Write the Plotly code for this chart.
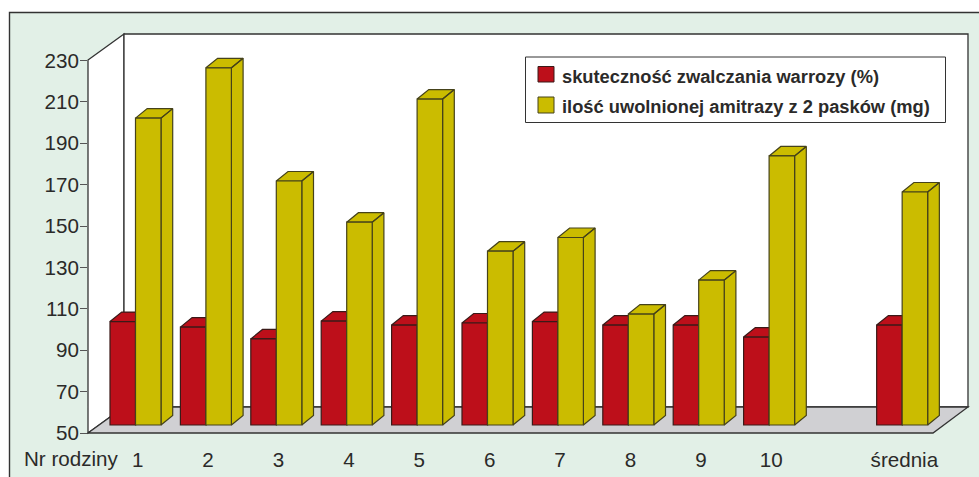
import plotly.graph_objects as go

# Chart data
families = ["1", "2", "3", "4", "5", "6", "7", "8", "9", "10", "średnia"]
positions = [1, 2, 3, 4, 5, 6, 7, 8, 9, 10, 11.89]
efficacy = [100, 97.3, 91.6, 100.2, 98.3, 99.3, 100, 98.3, 98.3, 92.5, 98.3]
amitraz = [198.3, 222.6, 167.9, 148, 207.5, 134, 140.6, 103.6, 120, 180, 162.6]
series_names = ["skuteczność zwalczania warrozy (%)", "ilość uwolnionej amitrazy z 2 pasków (mg)"]
y_ticks = [50, 70, 90, 110, 130, 150, 170, 190, 210, 230]

RED, YELLOW = "#bd0f1a", "#cbbc00"
RED_EDGE, YELLOW_EDGE = "#3a1a18", "#45421a"
INK = "#2b2a29"
FONT = "Liberation Sans, Arial, sans-serif"

W, H = 979, 477
L, R, T, B = 88, 969, 34, 433
PX_PER_X = 70.4
PX_PER_Y = 372.5 / 180
x_min = 1 - (135.5 - L) / PX_PER_X
x_max = x_min + (R - L) / PX_PER_X
y_range = [50, 50 + (B - T) / PX_PER_Y]
# bars stand part-way into the floor, so their value scale sits a little higher
bar_shift = 8 / PX_PER_Y
bar_range = [y_range[0] - bar_shift, y_range[1] - bar_shift]

bar_w = 25.5 / PX_PER_X
dx = 11.7 / PX_PER_X
dy = 9.5 / PX_PER_Y


def px(x):
    return (x - L) / (R - L)


def py(y):
    return (B - y) / (B - T)


def path(points):
    return "M" + " L".join(f"{px(x):.5f},{py(y):.5f}" for x, y in points) + " Z"


def faces(values, offset):
    """Side and top parallelograms of one series, as None-separated outlines."""
    xs, ys = [], []
    for p, v in zip(positions, values):
        x0 = p + offset
        x1 = x0 + bar_w
        xs += [x1, x1 + dx, x1 + dx, x1, x1, None]
        ys += [50, 50 + dy, v + dy, v, 50, None]
        xs += [x0, x1, x1 + dx, x0 + dx, x0, None]
        ys += [v, v, v + dy, v + dy, v, None]
    return xs, ys


fig = go.Figure()

# Keeps the visible value axis attached to a subplot of its own
fig.add_trace(go.Scatter(x=positions, y=y_ticks[:1] * len(positions), mode="markers",
                         marker=dict(opacity=0), hoverinfo="skip", showlegend=False))

# Depth faces first, then the front faces in a subplot layered over them
for values, offset, color, edge in [
    (efficacy, -bar_w, RED, RED_EDGE),
    (amitraz, 0, YELLOW, YELLOW_EDGE),
]:
    xs, ys = faces(values, offset)
    fig.add_trace(go.Scatter(
        x=xs, y=ys, yaxis="y2", mode="lines", fill="toself", fillcolor=color,
        line=dict(color=edge, width=1.2), hoverinfo="skip", showlegend=False,
    ))

for values, offset, color, edge, name in [
    (efficacy, -bar_w / 2, RED, RED_EDGE, series_names[0]),
    (amitraz, bar_w / 2, YELLOW, YELLOW_EDGE, series_names[1]),
]:
    fig.add_trace(go.Bar(
        x=[p + offset for p in positions], y=[v - 50 for v in values], base=50,
        width=bar_w, yaxis="y3", name=name, marker=dict(color=color, line=dict(color=edge, width=1.2)),
        showlegend=False,
    ))

EDGE = dict(color="#333333", width=1.3)
shapes = [
    # panel
    dict(type="rect", xref="paper", yref="paper", x0=px(9.5), x1=px(W + 10), y0=py(H + 10), y1=py(12.5),
         fillcolor="#e2f0e7", line=dict(color="#333333", width=1.4), layer="below"),
    # side and back walls
    dict(type="path", xref="paper", yref="paper", path=path([(L, 60), (124, T), (124, 407), (L, B)]),
         fillcolor="white", line=EDGE, layer="below"),
    dict(type="path", xref="paper", yref="paper", path=path([(124, T), (R - 1, T), (R - 1, 407), (124, 407)]),
         fillcolor="white", line=EDGE, layer="below"),
    # floor
    dict(type="path", xref="paper", yref="paper", path=path([(L, B), (124, 407), (R - 1, 407), (933, B)]),
         fillcolor="#d0d0d3", line=EDGE, layer="below"),
    # legend box and swatches
    dict(type="rect", xref="paper", yref="paper", x0=px(525.5), x1=px(945.5), y0=py(122.5), y1=py(57),
         fillcolor="white", line=dict(color="#333333", width=1), layer="above"),
    dict(type="rect", xref="paper", yref="paper", x0=px(538), x1=px(554), y0=py(82), y1=py(66.5),
         fillcolor=RED, line=dict(color=RED_EDGE, width=1), layer="above"),
    dict(type="rect", xref="paper", yref="paper", x0=px(538), x1=px(554), y0=py(113), y1=py(97),
         fillcolor=YELLOW, line=dict(color=YELLOW_EDGE, width=1), layer="above"),
]

annotations = [
    dict(text="Nr rodziny", xref="paper", yref="paper", x=px(71), y=py(459), xanchor="center", yanchor="middle",
         showarrow=False, font=dict(family=FONT, size=20.6, color=INK)),
]
for name, text_y in zip(series_names, [76, 106.5]):
    annotations.append(dict(
        text=f"<b>{name}</b>", xref="paper", yref="paper", x=px(563), y=py(text_y),
        xanchor="left", yanchor="middle", showarrow=False, xshift=-3,
        font=dict(family=FONT, size=18.3, color=INK),
    ))

fig.update_layout(
    width=W, height=H, autosize=False,
    margin=dict(l=L, r=W - R, t=T, b=H - B, pad=0, autoexpand=False),
    paper_bgcolor="white", plot_bgcolor="rgba(0,0,0,0)",
    barmode="overlay", showlegend=False,
    shapes=shapes, annotations=annotations,
    xaxis=dict(
        range=[x_min, x_max], showgrid=False, zeroline=False, showline=False,
        tickmode="array", tickvals=[p + 2.2 / PX_PER_X for p in positions], ticktext=families,
        ticks="outside", ticklen=8, tickcolor="rgba(0,0,0,0)",
        tickfont=dict(family=FONT, size=20.6, color=INK),
    ),
    yaxis=dict(
        range=y_range, showgrid=False, zeroline=False, showline=False,
        tickmode="array", tickvals=y_ticks, ticks="outside", ticklen=7, tickcolor="#555555", tickwidth=1.3,
        ticklabelstandoff=-3,
        tickfont=dict(family=FONT, size=20.6, color=INK),
    ),
    yaxis2=dict(range=bar_range, overlaying="y", visible=False),
    yaxis3=dict(range=bar_range, overlaying="y", visible=False),
)

fig.write_html("out.html", config=dict(displayModeBar=False))
